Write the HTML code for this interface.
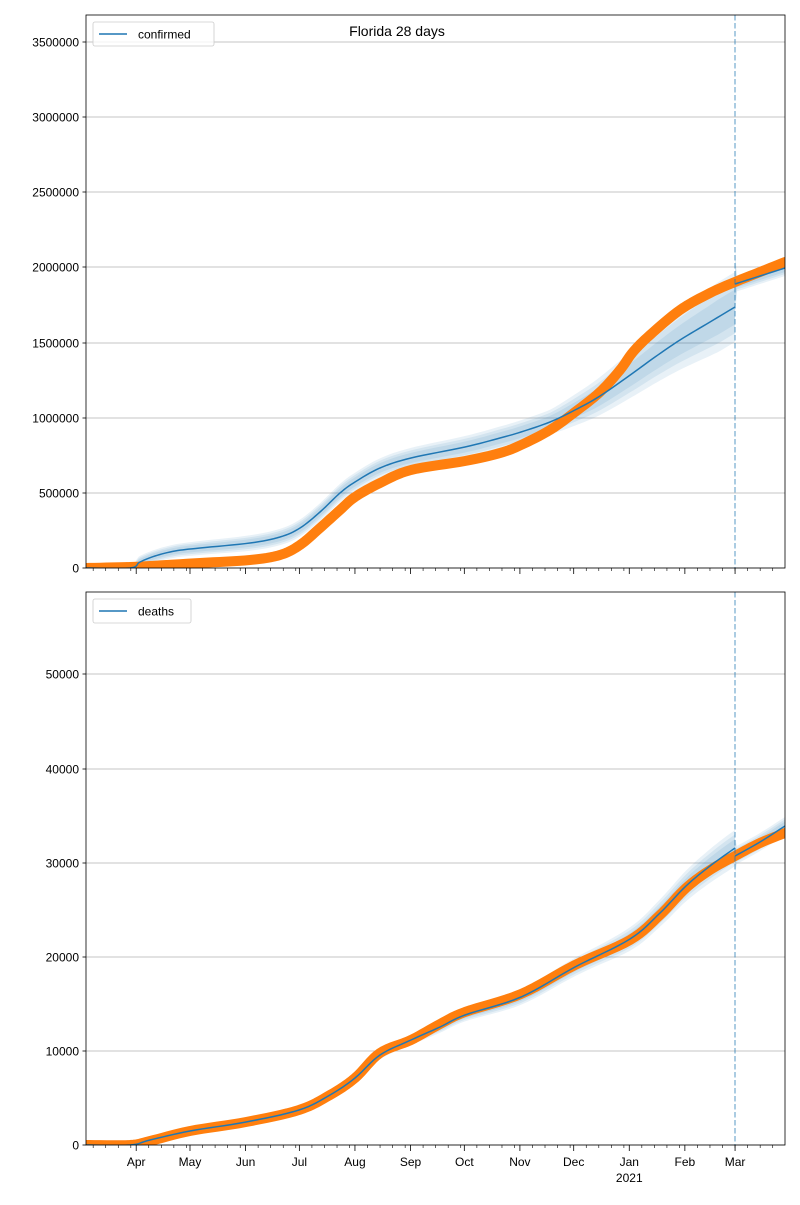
<!DOCTYPE html>
<html><head><meta charset="utf-8"><style>
body{margin:0;background:#fff}
svg{font-family:"Liberation Sans","DejaVu Sans",sans-serif}
</style></head><body>
<svg id="s" width="800" height="1200" xmlns="http://www.w3.org/2000/svg"></svg>
<script>
const s=document.getElementById('s');let h='';
const X0=86,X1=785;
const t0=Date.UTC(2020,2,4);const ppd=1.793;
function dx(y,m,d){return X0+(Date.UTC(y,m,d)-t0)/864e5*ppd;}
function smooth(pts){let out=[];for(let i=0;i<pts.length-1;i++){let p0=pts[Math.max(0,i-1)],p1=pts[i],p2=pts[i+1],p3=pts[Math.min(pts.length-1,i+2)];
 for(let k=0;k<8;k++){let t=k/8,t2=t*t,t3=t2*t;
  let f=(a,b,c,d)=>0.5*((2*b)+(-a+c)*t+(2*a-5*b+4*c-d)*t2+(-a+3*b-3*c+d)*t3);
  out.push([f(p0[0],p1[0],p2[0],p3[0]),f(p0[1],p1[1],p2[1],p3[1])]);}}
 out.push(pts[pts.length-1]);return out;}
function pl(pts){return pts.map(p=>p[0].toFixed(2)+','+p[1].toFixed(2)).join(' ');}
function band(pts,w){let a=pts.map(p=>[p[0],p[1]-w(p)]),b=pts.slice().reverse().map(p=>[p[0],p[1]+w(p)]);return pl(a.concat(b));}
function panel(top,bot,yt,lab,blue1,blue2,orange,bw){
 blue1=smooth(blue1);blue2=smooth(blue2);orange=smooth(orange);
 yt.forEach(t=>{h+=`<line x1="${X0}" x2="${X1}" y1="${t[0]}" y2="${t[0]}" stroke="#b0b0b0" stroke-width="0.8"/>`;
  h+=`<line x1="${X0-3.5}" x2="${X0}" y1="${t[0]}" y2="${t[0]}" stroke="#000" stroke-width="0.8"/>`;
  h+=`<text x="${X0-7}" y="${t[0]+4.5}" font-size="12" text-anchor="end">${t[1]}</text>`;});
 h+=`<clipPath id="c${top}"><rect x="${X0}" y="${top}" width="${X1-X0}" height="${bot-top}"/></clipPath><g clip-path="url(#c${top})">`;
 [blue1,blue2].forEach(b=>{[1,0.75,0.5].forEach(f=>{h+=`<polygon points="${band(b,p=>bw(p)*f)}" fill="#1f77b4" fill-opacity="0.1"/>`;});});
 h+=`<polyline points="${pl(orange)}" fill="none" stroke="#ff7f0e" stroke-width="10" stroke-linejoin="round" stroke-linecap="round"/>`;
 h+=`<polyline points="${pl(blue1)}" fill="none" stroke="#1f77b4" stroke-width="1.5"/>`;
 h+=`<polyline points="${pl(blue2)}" fill="none" stroke="#1f77b4" stroke-width="1.5"/>`;
 h+=`<line x1="735" x2="735" y1="${top}" y2="${bot}" stroke="#1f77b4" stroke-opacity="0.5" stroke-width="1.5" stroke-dasharray="5.5,2.5"/>`;
 h+=`</g><rect x="${X0}" y="${top}" width="${X1-X0}" height="${bot-top}" fill="none" stroke="#000" stroke-width="0.8"/>`;
 for(let i=0;i<13;i++){let y=2020+Math.floor((i+3)/12),m=(i+3)%12;
  let x=dx(y,m,1);if(x>=X0-0.5&&x<=X1+0.5)h+=`<line x1="${x}" x2="${x}" y1="${bot}" y2="${bot+6}" stroke="#000" stroke-width="0.8"/>`;
  [8,15,22,29].forEach(d=>{let xm=dx(y,m,d);if(xm>=X0&&xm<=X1)h+=`<line x1="${xm}" x2="${xm}" y1="${bot}" y2="${bot+3}" stroke="#000" stroke-width="0.6"/>`;});}
 [8,15,22,29].forEach(d=>{let xm=dx(2020,2,d);if(xm>=X0)h+=`<line x1="${xm}" x2="${xm}" y1="${bot}" y2="${bot+3}" stroke="#000" stroke-width="0.6"/>`;});
 h+=`<rect x="93" y="${top+7}" width="${lab=='confirmed'?121:98}" height="24" rx="2" fill="#fff" fill-opacity="0.8" stroke="#ccc" stroke-width="0.8"/>`;
 h+=`<line x1="99" x2="127" y1="${top+19}" y2="${top+19}" stroke="#1f77b4" stroke-width="1.5"/>`;
 h+=`<text x="138" y="${top+23.5}" font-size="12">${lab}</text>`;
}
let b1=[[86,568],[130,568],[140,562],[155,556],[175,551],[200,548],[250,543],[280,537],[300,528],[320,512],[340,493],[355,482],[380,468],[411,458],[465,447],[500,438],[521,432],[550,422],[575,410],[600,396],[633,373],[655,357],[680,340],[710,322],[735,307]];
let b2=[[735,284],[760,276],[785,268]];
let o1=[[86,568],[130,567],[150,566],[200,563],[250,560],[280,555],[300,545],[320,528],[340,510],[355,497],[380,483],[411,470],[465,461],[500,453],[521,445],[550,430],[575,412],[600,392],[620,370],[633,352],[650,335],[680,310],[710,293],[735,282],[760,272],[785,262]];
panel(15,568,[[568,0],[493,500000],[418,1000000],[343,1500000],[267,2000000],[192,2500000],[117,3000000],[42,3500000]],'confirmed',b1,b2,o1,
 p=>p[0]<135?0:p[0]>=736?8:Math.min(35,6+(p[0]-135)*0.015+(p[0]>550?(p[0]-550)*0.12:0)));
let d1=[[86,1145],[130,1145],[150,1140],[190,1131],[246,1122],[299,1110],[330,1095],[355,1078],[380,1055],[411,1040],[440,1027],[465,1015],[521,997],[575,967],[630,939],[660,913],[686,886],[710,866],[735,848]];
let d2=[[735,856],[760,842],[785,826]];
let od=[[86,1145],[130,1145],[150,1141],[190,1131],[246,1122],[299,1110],[330,1095],[355,1078],[380,1053],[411,1040],[440,1024],[465,1012],[521,994],[575,965],[630,940],[660,915],[686,888],[710,870],[735,856],[760,843],[785,833]];
panel(592,1145,[[1145,0],[1051,10000],[957,20000],[863,30000],[769,40000],[674,50000]],'deaths',d1,d2,od,
 p=>p[0]<330?0:p[0]>=736?9:Math.min(18,3+(p[0]-330)*0.025+(p[0]>600?(p[0]-600)*0.04:0)));
const ml=['Apr','May','Jun','Jul','Aug','Sep','Oct','Nov','Dec','Jan','Feb','Mar'];
ml.forEach((m,i)=>{let y=2020+Math.floor((i+3)/12),mo=(i+3)%12;h+=`<text x="${dx(y,mo,1)}" y="1166" font-size="12" text-anchor="middle">${m}</text>`;});
h+=`<text x="${dx(2021,0,1)}" y="1182" font-size="12" text-anchor="middle">2021</text>`;
h+=`<text x="397" y="36" font-size="14" text-anchor="middle">Florida 28 days</text>`;
s.innerHTML=h;
</script>
</body></html>
